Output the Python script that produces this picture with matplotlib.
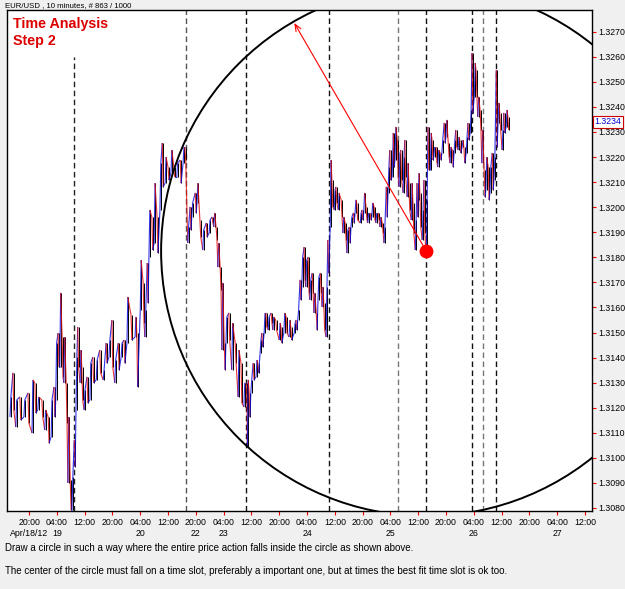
import matplotlib
matplotlib.use("Agg")
import matplotlib.pyplot as plt
from matplotlib.collections import LineCollection
from matplotlib.patches import Ellipse
from matplotlib.transforms import blended_transform_factory

plt.rcParams['font.family'] = ['Liberation Sans', 'DejaVu Sans']

# --- data (bar index = 10 minute bars, price = EUR/USD) ---
bars = [0, 5, 10, 17, 24, 31, 38, 43, 48, 55,
        60, 66, 71, 76, 79, 83, 86, 90, 93, 97,
        100, 104, 107, 111, 114, 117, 121, 124, 128, 133,
        138, 143, 149, 155, 161, 166, 171, 176, 181, 187,
        192, 197, 202, 209,
        216, 219, 225, 230, 233, 237, 240,
        245, 249, 254, 259, 263, 268, 273, 278, 283, 288,
        294, 299, 302, 307, 311, 314, 320, 323, 328, 333,
        339, 344, 349, 352, 356, 359, 363, 366, 370, 373,
        378, 383, 389, 394, 399, 404, 408, 410, 413, 416,
        420, 425, 428, 432, 435, 439, 442, 446, 451, 454,
        459, 465, 468, 473, 477, 482, 485, 491, 494, 497,
        501, 504, 508, 511, 515, 518, 522, 525, 529, 532,
        536, 539, 542, 546, 549, 553, 556, 560, 563, 567,
        572, 575, 579, 582, 586, 589, 593, 596, 599, 605,
        608, 611, 615, 618, 622, 625, 629, 632, 636, 639,
        643, 646, 650, 653, 656, 660, 662, 665, 669, 672,
        675, 679, 682, 686, 689, 693, 696, 700, 703, 705,
        708, 712, 715, 719, 722, 726, 729, 732, 736, 739,
        743, 746, 750, 753, 757, 760, 764, 767, 770, 774,
        777, 781, 784, 788, 791, 795, 798, 802, 805, 808,
        812, 815, 819, 822, 826, 829, 833, 836, 840, 843,
        846, 850, 853, 857, 860]

highs = [1.31243, 1.31339, 1.31231, 1.31243, 1.31231, 1.31259, 1.31311, 1.31299, 1.31243, 1.31231,
         1.31191, 1.31163, 1.31231, 1.31283, 1.31458, 1.31498, 1.31658, 1.31482, 1.31482, 1.31299,
         1.31163, 1.30912, 1.30924, 1.31071, 1.31402, 1.31522, 1.31430, 1.31362, 1.31271, 1.31323,
         1.31378, 1.31402, 1.31390, 1.31430, 1.31351, 1.31458, 1.31470, 1.31550, 1.31390, 1.31458,
         1.31458, 1.31470, 1.31642, 1.31570,
         1.31562, 1.31498, 1.31789, 1.31698, 1.31590, 1.31777, 1.31989,
         1.31961, 1.32096, 1.31961, 1.32176, 1.32256, 1.32200, 1.32160, 1.32228, 1.32160, 1.32176,
         1.32188, 1.32240, 1.32240, 1.31921, 1.32001, 1.32017, 1.32057, 1.32096, 1.31949, 1.31909,
         1.31937, 1.31949, 1.31961, 1.31977, 1.31921, 1.31857, 1.31761, 1.31698, 1.31458, 1.31562,
         1.31578, 1.31538, 1.31458, 1.31430, 1.31378, 1.31299, 1.31299, 1.31311, 1.31259, 1.31311,
         1.31378, 1.31390, 1.31378, 1.31470, 1.31498, 1.31578, 1.31578, 1.31562, 1.31578, 1.31562,
         1.31550, 1.31538, 1.31522, 1.31578, 1.31562, 1.31550, 1.31522, 1.31538, 1.31550, 1.31590,
         1.31710, 1.31801, 1.31841, 1.31789, 1.31801, 1.31710, 1.31737, 1.31658, 1.31578, 1.31721,
         1.31737, 1.31682, 1.31618, 1.31682, 1.31869, 1.32188, 1.32108, 1.32069, 1.32081, 1.32057,
         1.32029, 1.31961, 1.31937, 1.31909, 1.31921, 1.31961, 1.31977, 1.32029, 1.32017, 1.31977,
         1.31989, 1.32057, 1.32001, 1.31977, 1.31977, 1.32017, 1.32001, 1.31977, 1.31977, 1.31961,
         1.31937, 1.31921, 1.32081, 1.32160, 1.32228, 1.32240, 1.32296, 1.32320, 1.32268, 1.32216,
         1.32228, 1.32200, 1.32268, 1.32176, 1.32096, 1.32096, 1.32017, 1.31949, 1.32096, 1.32136,
         1.32057, 1.31989, 1.32108, 1.32029, 1.32320, 1.32296, 1.32268, 1.32240, 1.32240, 1.32228,
         1.32216, 1.32268, 1.32336, 1.32348, 1.32256, 1.32240, 1.32228, 1.32268, 1.32308, 1.32280,
         1.32268, 1.32268, 1.32240, 1.32280, 1.32336, 1.32388, 1.32615, 1.32575, 1.32547, 1.32440,
         1.32388, 1.32308, 1.32148, 1.32200, 1.32160, 1.32160, 1.32216, 1.32200, 1.32547, 1.32416,
         1.32376, 1.32308, 1.32376, 1.32388, 1.32360]

lows = [1.31163, 1.31191, 1.31123, 1.31151, 1.31163, 1.31139, 1.31099, 1.31179, 1.31191, 1.31163,
        1.31111, 1.31059, 1.31083, 1.31163, 1.31231, 1.31362, 1.31362, 1.31323, 1.31299, 1.31139,
        1.30900, 1.30792, 1.30792, 1.30964, 1.31191, 1.31362, 1.31299, 1.31231, 1.31191, 1.31219,
        1.31231, 1.31299, 1.31311, 1.31339, 1.31311, 1.31378, 1.31402, 1.31362, 1.31299, 1.31351,
        1.31402, 1.31378, 1.31458, 1.31470,
        1.31482, 1.31283, 1.31590, 1.31538, 1.31482, 1.31618, 1.31801,
        1.31829, 1.31857, 1.31817, 1.31989, 1.32081, 1.32096, 1.32108, 1.32136, 1.32120, 1.32120,
        1.32096, 1.32176, 1.32188, 1.31857, 1.31909, 1.31961, 1.31977, 1.32017, 1.31881, 1.31829,
        1.31881, 1.31897, 1.31937, 1.31921, 1.31869, 1.31761, 1.31670, 1.31430, 1.31351, 1.31458,
        1.31470, 1.31351, 1.31378, 1.31243, 1.31219, 1.31203, 1.31191, 1.31043, 1.31163, 1.31259,
        1.31311, 1.31323, 1.31339, 1.31418, 1.31442, 1.31498, 1.31522, 1.31510, 1.31538, 1.31510,
        1.31510, 1.31470, 1.31458, 1.31498, 1.31498, 1.31482, 1.31470, 1.31498, 1.31510, 1.31550,
        1.31630, 1.31682, 1.31710, 1.31682, 1.31658, 1.31630, 1.31658, 1.31578, 1.31510, 1.31630,
        1.31658, 1.31602, 1.31510, 1.31482, 1.31737, 1.31921, 1.32001, 1.31989, 1.32017, 1.31989,
        1.31961, 1.31897, 1.31869, 1.31817, 1.31857, 1.31921, 1.31937, 1.31977, 1.31949, 1.31937,
        1.31949, 1.31977, 1.31949, 1.31937, 1.31949, 1.31961, 1.31949, 1.31937, 1.31949, 1.31921,
        1.31897, 1.31857, 1.31961, 1.32057, 1.32108, 1.32120, 1.32160, 1.32188, 1.32120, 1.32081,
        1.32108, 1.32057, 1.32120, 1.32041, 1.31989, 1.31949, 1.31897, 1.31829, 1.31961, 1.32029,
        1.31921, 1.31869, 1.31897, 1.31801, 1.32148, 1.32148, 1.32188, 1.32200, 1.32176, 1.32160,
        1.32188, 1.32216, 1.32256, 1.32280, 1.32200, 1.32176, 1.32160, 1.32216, 1.32240, 1.32228,
        1.32216, 1.32240, 1.32176, 1.32216, 1.32268, 1.32296, 1.32376, 1.32440, 1.32440, 1.32360,
        1.32308, 1.32176, 1.32041, 1.32069, 1.32029, 1.32057, 1.32069, 1.32108, 1.32240, 1.32336,
        1.32308, 1.32228, 1.32296, 1.32320, 1.32308]

last_price = 1.3234

# time slots (dashed verticals); top = None means full height
slot_bars = [111, 304, 408, 551, 670, 719, 798, 817, 840]
slot_tops = [1.3260, None, None, None, None, None, None, None, None]
slot_colors = ['#222222', '#555555', '#111111', '#111111', '#777777',
               '#111111', '#111111', '#777777', '#111111']

# circle centred on the time slot / low point
center_bar = 719
center_price = 1.31825
radius_bars = 458
radius_price = 0.01057
arrow_tip_bar = 491
arrow_tip_price = 1.32735

tick_bars = [33 + 48 * k for k in range(21)]
tick_times = ['20:00', '04:00', '12:00'] * 7
tick_dates = ['Apr/18/12', '19', '', '', '20', '', '22', '23', '', '',
              '24', '', '', '25', '', '', '26', '', '', '27', '']

y_ticks = [1.3080 + 0.001 * k for k in range(20)]

fig = plt.figure(figsize=(6.25, 5.89), dpi=100, facecolor='#f0f0f0')
ax = fig.add_axes([7 / 625, 1 - 511 / 589, 585 / 625, 501 / 589])
ax.set_facecolor('white')
ax.set_xlim(-5.2, 1005.3)
ax.set_ylim(1.30788, 1.327865)
y_bot, y_top = ax.get_ylim()

# price bars: high-low ranges plus zigzag coloured by direction
ax.vlines([b + 1.5 for b in bars], lows, highs, colors='black', lw=0.7, zorder=2)
pts = []
for i, b in enumerate(bars):
    if i % 2 == 0:
        pts += [(b, lows[i]), (b + 1.5, highs[i])]
    else:
        pts += [(b, highs[i]), (b + 1.5, lows[i])]
segs = [[pts[j], pts[j + 1]] for j in range(len(pts) - 1)]
cols = ['#1010e0' if s[1][1] >= s[0][1] else '#e01010' for s in segs]
ax.add_collection(LineCollection(segs, colors=cols, lw=0.8, alpha=0.85, zorder=3))

for b, top, c in zip(slot_bars, slot_tops, slot_colors):
    ax.plot([b, b], [y_bot, top if top else y_top], color=c, lw=1,
            linestyle=(0, (4, 2.5)), zorder=1)

circ = Ellipse((center_bar, center_price), 2 * radius_bars, 2 * radius_price,
               fill=False, edgecolor='black', lw=1.4, zorder=4)
ax.add_patch(circ)

ax.annotate('', xy=(arrow_tip_bar, arrow_tip_price), xytext=(center_bar, center_price),
            arrowprops=dict(arrowstyle='->,head_length=0.5,head_width=0.2',
                            color='red', lw=0.8, shrinkA=0, shrinkB=0), zorder=5)
ax.plot([center_bar], [center_price], 'o', color='red', markersize=9, zorder=6)

# axes styling
for sp in ax.spines.values():
    sp.set_color('black')
    sp.set_linewidth(1)
ax.yaxis.tick_right()
ax.set_yticks(y_ticks)
ax.set_yticklabels([f'{v:.4f}' for v in y_ticks])
ax.tick_params(axis='y', which='both', colors='red', labelcolor='black',
               length=3, width=0.8, labelsize=6.3, pad=1.5, direction='out')
ax.set_xticks(tick_bars)
ax.set_xticklabels(tick_times)
ax.tick_params(axis='x', colors='red', labelcolor='black', length=3, width=0.8,
               labelsize=6.3, pad=2, direction='out')

# date row under the time labels
date_tr = blended_transform_factory(ax.transData, fig.transFigure)
for b, d in zip(tick_bars, tick_dates):
    if d:
        ax.text(b, 1 - 534 / 589, d, transform=date_tr, fontsize=6.3,
                ha='center', va='center', clip_on=False)

ax.annotate(f'{last_price:.4f}', xy=(1.0, last_price), xycoords=ax.get_yaxis_transform(),
            xytext=(2, 0), textcoords='offset points', va='center', ha='left',
            fontsize=6.3, color='#0000cc',
            bbox=dict(boxstyle='square,pad=0.15', fc='white', ec='#cc0000', lw=0.8),
            annotation_clip=False)

# texts
fig.text(5 / 625, 1 - 6 / 589, 'EUR/USD , 10 minutes, # 863 / 1000', fontsize=5.6,
         va='center', ha='left')
fig.text(13 / 625, 1 - 28 / 589, 'Time Analysis', fontsize=10.3, fontweight='bold',
         color='#dd0000', va='baseline')
fig.text(13 / 625, 1 - 45 / 589, 'Step 2', fontsize=10.3, fontweight='bold',
         color='#dd0000', va='baseline')
fig.text(5 / 625, 1 - 548 / 589,
         'Draw a circle in such a way where the entire price action falls inside the circle as shown above.',
         fontsize=7.0, va='center', ha='left')
fig.text(5 / 625, 1 - 571 / 589,
         'The center of the circle must fall on a time slot, preferably a important one, but at times the best fit time slot is ok too.',
         fontsize=7.0, va='center', ha='left')

fig.savefig('out.png', dpi=100, facecolor=fig.get_facecolor())
